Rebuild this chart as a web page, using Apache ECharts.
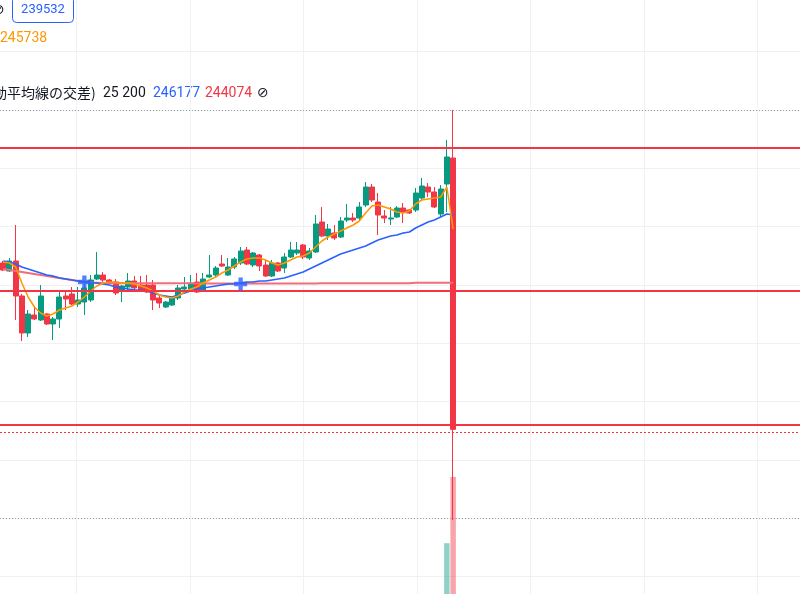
<!DOCTYPE html>
<html><head><meta charset="utf-8">
<script src="https://cdn.jsdelivr.net/npm/echarts/dist/echarts.min.js"></script>
<style>html,body{margin:0;padding:0;background:#fff;overflow:hidden}#c{width:800px;height:594px}</style>
</head><body><div id="c"></div>
<script>
// ---- data (prices) ----
const openP = [244689,244441,244751,243666,242519,243077,242922,243108,242798,242953,
243666,243728,243418,243480,243542,244193,244317,244162,244100,243852,
243945,244131,244007,244007,244007,243604,243325,243387,243604,243883,
243883,244100,243821,244255,244317,244658,244317,244565,244689,245092,
244627,244937,244627,244286,244689,244534,244875,244999,245247,244844,
245030,245960,245526,245619,245495,246022,246084,246084,246487,247045,
246580,246146,246053,246115,246394,246332,246332,246704,247045,246890,
246208,247138,247944];
const closeP = [244472,244751,243666,242519,243108,242953,243666,242798,242953,243635,
243573,243418,243542,243914,244162,244317,244162,244069,243759,243976,
244131,243914,243852,243790,243542,243449,243480,243604,243914,243945,
244069,243790,244193,244317,244534,244596,244565,244813,245061,244658,
244999,244596,244286,244689,244441,244875,245092,245092,244875,245061,
245898,245526,245743,245464,245991,246084,246022,246425,247045,246642,
246177,246084,246084,246394,246270,246239,246859,247076,246890,246425,
246983,247975,239532];
const lowP = [244441,244410,242922,242271,242395,242922,242891,242767,242302,242674,
243232,243387,243325,243077,243480,244162,244100,244038,243697,243480,
243852,243852,243821,243759,243232,243294,243294,243356,243542,243728,
243790,243759,243790,244224,244255,244565,244286,244503,244627,244627,
244565,244441,244255,244255,244410,244379,244844,244937,244813,244782,
244999,245495,245402,245402,245464,245960,245960,246022,246425,246580,
245557,245929,245867,246084,245929,246208,246270,246642,246735,246394,
246115,246270,236722];
const highP = [244751,244844,245867,243728,243232,243356,244007,243139,243015,243790,
243790,243945,243945,244162,244317,245030,244410,244193,244193,244007,
244379,244286,244286,244317,244162,243697,243511,243635,244007,244255,
244317,244379,244379,244937,244596,244937,244844,244875,245185,245185,
245030,244968,244782,244782,244720,244999,245340,245340,245278,245154,
246177,246425,245898,245867,246115,246518,246239,246580,247200,247138,
246859,246332,246425,246456,246549,246363,247014,247324,247169,247045,
247107,248502,249432];
const maShort = [244720,244689,244565,244069,243635,243325,243139,243046,243108,243232,
243294,243356,243480,243635,243821,243976,244069,244100,244100,244069,
244069,244038,243976,243914,243821,243697,243635,243604,243666,243790,
243883,243945,244069,244162,244255,244379,244472,244596,244720,244813,
244844,244844,244782,244689,244627,244689,244782,244875,244906,244999,
245185,245371,245495,245588,245681,245774,245867,245991,246239,246456,
246487,246425,246363,246270,246239,246301,246518,246642,246673,246704,
246735,247045,245738];
const ma25 = [244751,244720,244658,244565,244503,244441,244379,244317,244286,244224,
244193,244162,244131,244100,244069,244069,244038,244007,243945,243914,
243883,243852,243852,243821,243759,243697,243666,243635,243697,243759,
243821,243883,243914,243945,243976,244007,244038,244038,244069,244100,
244100,244131,244131,244162,244193,244224,244286,244348,244410,244503,
244596,244689,244782,244875,244968,245030,245092,245154,245216,245309,
245402,245464,245526,245557,245619,245650,245774,245867,245960,246022,
246115,246208,246177];
const ma200 = [244503,244472,244441,244410,244379,244348,244317,244286,244255,244224,
244193,244162,244131,244100,244085,244075,244060,244060,244060,244060,
244060,244060,244060,244060,244060,244060,244060,244060,244060,244060,
244060,244055,244055,244055,244055,244055,244055,244055,244055,244055,
244055,244055,244055,244055,244055,244055,244055,244055,244055,244055,
244055,244065,244065,244065,244065,244065,244065,244065,244065,244065,
244065,244065,244065,244065,244065,244065,244074,244074,244074,244074,
244074,244074,244074];
const crossIdx = [13, 38];
const crossVal = [244100, 244038];
const volIdx = [71, 72];
const volVal = [1050, 2420];
const levelLines = [248254, 243821, 239667];
const dottedRed = 239450;
const dottedGray = [249432, 236784];
const categories = openP.map((_, i) => 'D' + (i + 1));

// ---- layout ----
const BAR = 6.3, NCAT = 128;
const catsPadded = categories.concat(Array(NCAT - categories.length).fill(''));
const candles = openP.map((o, i) => [o, closeP[i], lowP[i], highP[i]]);
const volData = categories.map(() => null);
volIdx.forEach((k, j) => {
  volData[k] = { value: volVal[j], itemStyle: { color: closeP[k] >= openP[k] ? 'rgba(8,153,129,0.45)' : 'rgba(242,54,69,0.45)' } };
});
const crossData = crossIdx.map((k, j) => [k, crossVal[j]]);
const UP = '#089981', DN = '#f23645';
const gridBox = { left: -2.55, top: 110, width: NCAT * BAR, height: 484 };
const GRIDC = '#eff1f4';

const hiddenAxis = { show: false };
const gridSplit = { show: true, lineStyle: { color: GRIDC, width: 1 } };
const bareAxis = { axisLine: hiddenAxis, axisTick: hiddenAxis, axisLabel: hiddenAxis };
const option = {
  animation: false,
  grid: [
    { left: 76.5, top: 0, width: 723.5, height: 594 },   // vertical grid lines
    { left: 0, top: 51.7, width: 800, height: 542.3 },   // horizontal grid lines
    Object.assign({}, gridBox),
    Object.assign({}, gridBox)
  ],
  xAxis: [
    Object.assign({ type: 'value', gridIndex: 0, min: 0, max: 723.5, interval: 113.5, splitLine: gridSplit }, bareAxis),
    Object.assign({ type: 'value', gridIndex: 1, min: 0, max: 1, splitLine: hiddenAxis }, bareAxis),
    { type: 'category', gridIndex: 2, data: catsPadded, show: false },
    { type: 'category', gridIndex: 3, data: catsPadded, show: false }
  ],
  yAxis: [
    Object.assign({ type: 'value', gridIndex: 0, min: 0, max: 1, splitLine: hiddenAxis }, bareAxis),
    Object.assign({ type: 'value', gridIndex: 1, min: 0, max: 542.3, interval: 58.3, inverse: true, splitLine: gridSplit }, bareAxis),
    { type: 'value', gridIndex: 2, min: 234428, max: 249432, show: false, splitLine: hiddenAxis },
    { type: 'value', gridIndex: 3, min: 0, max: 10000, show: false, splitLine: hiddenAxis }
  ],
  series: [
    { type: 'bar', xAxisIndex: 3, yAxisIndex: 3, data: volData, barWidth: 5.5, z: 1 },
    { type: 'candlestick', xAxisIndex: 2, yAxisIndex: 2, data: candles, barWidth: 5.4,
      itemStyle: { color: UP, color0: DN, borderColor: UP, borderColor0: DN, borderWidth: 1 },
      markLine: {
        silent: true, symbol: ['none', 'none'], label: { show: false }, animation: false,
        data: levelLines.map(v => ({ yAxis: v, lineStyle: { color: DN, width: 2, type: 'solid' } }))
          .concat([{ yAxis: dottedRed, lineStyle: { color: DN, width: 1, type: [2, 2] } }])
          .concat(dottedGray.map(v => ({ yAxis: v, lineStyle: { color: '#9a9ca6', width: 1, type: [1, 2] } })))
      } },
    { type: 'line', xAxisIndex: 2, yAxisIndex: 2, data: ma200, showSymbol: false,
      lineStyle: { color: '#f26d78', width: 2 } },
    { type: 'line', xAxisIndex: 2, yAxisIndex: 2, data: ma25, showSymbol: false,
      lineStyle: { color: '#2962ff', width: 1.6 } },
    { type: 'line', xAxisIndex: 2, yAxisIndex: 2, data: maShort, showSymbol: false,
      lineStyle: { color: '#ff9800', width: 1.5 } },
    { type: 'scatter', xAxisIndex: 2, yAxisIndex: 2, data: crossData,
      symbol: 'path://M4,0H8V4H12V8H8V12H4V8H0V4H4Z', symbolSize: 13,
      itemStyle: { color: '#2962ff' }, z: 5 }
  ],
  graphic: [
    { type: 'text', x: -7, y: 10, style: { text: '⊘', fill: '#131722', font: '14px "DejaVu Sans"', verticalAlign: 'middle' } },
    { type: 'rect', shape: { x: 12.5, y: -3.5, width: 61, height: 26, r: 4 }, style: { fill: '#fff', stroke: '#2962ff', lineWidth: 1 } },
    { type: 'text', x: 43, y: 10, style: { text: '239532', fill: '#2962ff', font: '13px Roboto', align: 'center', verticalAlign: 'middle' } },
    { type: 'text', x: 0, y: 38, style: { text: '245738', fill: '#ff9800', font: '14px Roboto', verticalAlign: 'middle' } },
    { type: 'text', x: -7, y: 93, style: { text: '動平均線の交差)', fill: '#131722', font: '14px "Noto Sans CJK JP"', verticalAlign: 'middle' } },
    { type: 'text', x: 103, y: 93, style: { text: '25 200', fill: '#131722', font: '14px Roboto', verticalAlign: 'middle' } },
    { type: 'text', x: 153, y: 93, style: { text: '246177', fill: '#2962ff', font: '14px Roboto', verticalAlign: 'middle' } },
    { type: 'text', x: 205, y: 93, style: { text: '244074', fill: '#f23645', font: '14px Roboto', verticalAlign: 'middle' } },
    { type: 'text', x: 257, y: 93, style: { text: '⊘', fill: '#131722', font: '14px "DejaVu Sans"', verticalAlign: 'middle' } }
  ]
};
echarts.init(document.getElementById('c')).setOption(option);
</script></body></html>
